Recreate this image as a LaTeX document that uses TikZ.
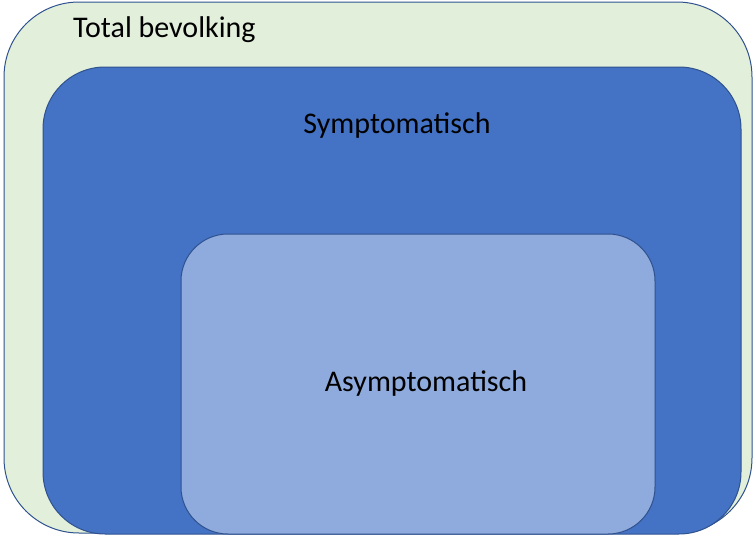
\documentclass[tikz,border=0pt]{standalone}
\usepackage{fontspec}
\setmainfont{Carlito}
\usetikzlibrary{positioning}

\definecolor{popgreen}{HTML}{E2EFDA}
\definecolor{sympblue}{HTML}{4472C4}
\definecolor{asympblue}{HTML}{8FAADC}
\definecolor{edgeblue}{HTML}{2F528F}

\tikzset{
  area/.style={draw=edgeblue, line width=1pt, inner sep=0pt},
  areatext/.style={font=\fontsize{30}{36}\selectfont, text=black, inner sep=0pt}
}

\begin{document}
\begin{tikzpicture}[x=1pt,y=-1pt]
  \useasboundingbox (0,0) rectangle (756,536);

  \node[area, fill=popgreen, rounded corners=75pt,
        minimum width=748pt, minimum height=531pt] (total) at (378,267.5) {};
  \node[area, fill=sympblue, rounded corners=62pt,
        minimum width=698pt, minimum height=467pt] (symp) at (392,300.5) {};
  \node[area, fill=asympblue, rounded corners=47pt,
        minimum width=474pt, minimum height=300pt] (asymp) at (418,384) {};

  \node[areatext, anchor=west] (ttotal) at (73,30) {Total bevolking};
  \node[areatext] (tsymp) at (397,125) {Symptomatisch};
  \node[areatext] (tasymp) at (426,383) {Asymptomatisch};

\end{tikzpicture}
\end{document}
